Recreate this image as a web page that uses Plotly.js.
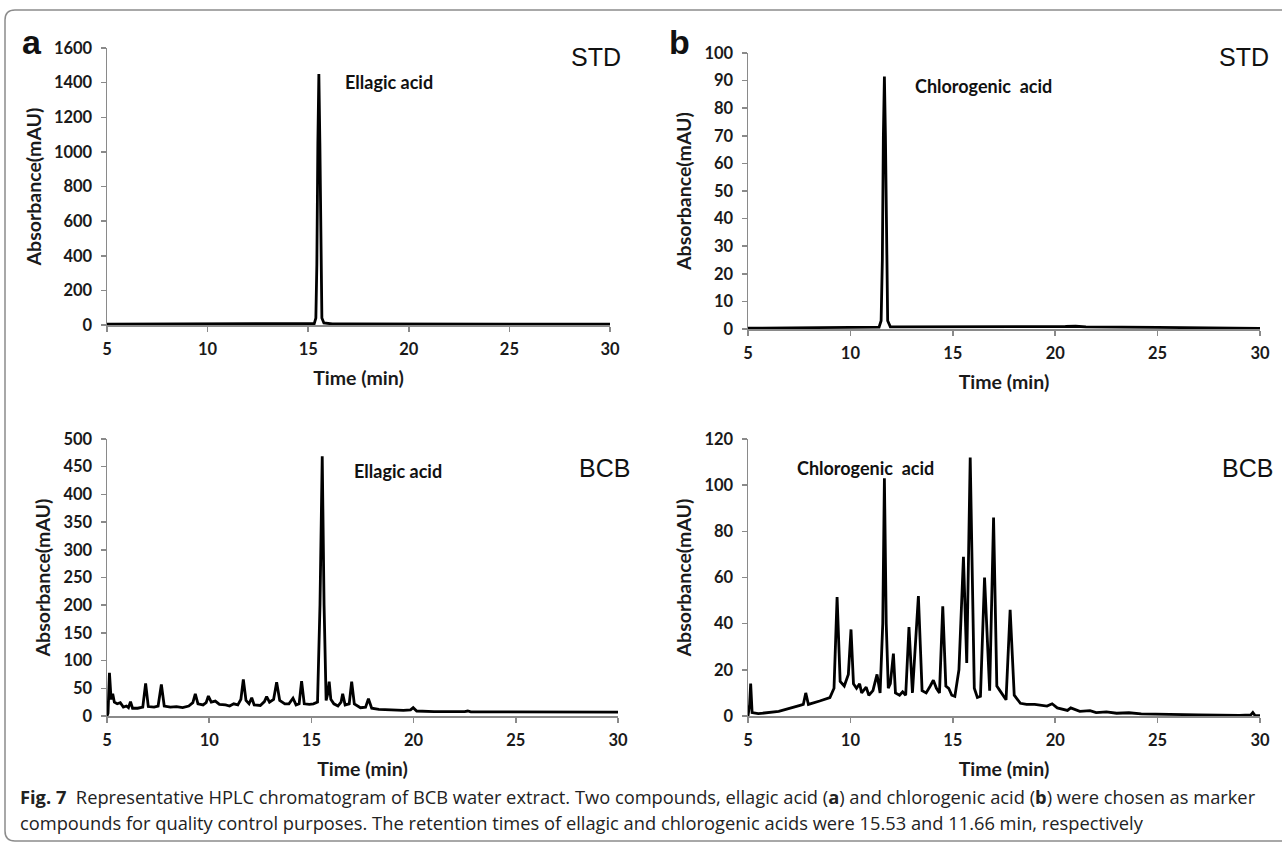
<!DOCTYPE html>
<html>
<head>
<meta charset="utf-8">
<script src="https://cdn.plot.ly/plotly-3.0.1.min.js"></script>
<style>html,body{margin:0;padding:0;background:#fff;}#chart{width:1282px;height:845px;}</style>
</head>
<body>
<div id="chart"></div>
<script>
// ---- Data ----
const stdEllagicTime = [5, 8, 10, 13, 15.0, 15.3, 15.38, 15.43, 15.48, 15.53, 15.58, 15.63, 15.68, 15.78, 16.2, 17, 20, 25, 30];
const stdEllagicAbs  = [5, 5, 6, 5, 5, 8, 40, 350, 1050, 1450, 1050, 350, 40, 12, 6, 6, 5, 5, 5];

const stdChloroTime = [5, 7, 10, 11.4, 11.5, 11.56, 11.61, 11.66, 11.71, 11.76, 11.82, 11.95, 13.5, 16, 20.5, 21, 21.5, 25, 28, 30];
const stdChloroAbs  = [0.3, 0.5, 0.6, 0.7, 3, 25, 70, 91.5, 70, 25, 3, 0.8, 0.8, 0.7, 0.9, 1.0, 0.8, 0.6, 0.5, 0.2];

const bcbEllagicTime = [5.0, 5.05, 5.12, 5.2, 5.28, 5.36, 5.5, 5.65, 5.8, 5.95, 6.05, 6.15, 6.25, 6.5, 6.75, 6.89, 7.02, 7.3, 7.5, 7.66, 7.8, 8.1, 8.4, 8.7, 9.0, 9.2, 9.32, 9.45, 9.7, 9.85, 9.96, 10.1, 10.3, 10.5, 10.8, 11.0, 11.2, 11.4, 11.55, 11.67, 11.8, 11.95, 12.08, 12.2, 12.5, 12.7, 12.81, 12.95, 13.15, 13.3, 13.45, 13.7, 13.9, 14.1, 14.25, 14.4, 14.52, 14.65, 14.9, 15.1, 15.3, 15.42, 15.53, 15.62, 15.72, 15.8, 15.87, 15.95, 16.1, 16.3, 16.45, 16.53, 16.65, 16.85, 16.97, 17.1, 17.4, 17.65, 17.79, 17.95, 18.3, 18.8, 19.5, 19.85, 19.98, 20.15, 21, 22.5, 22.65, 22.8, 25, 28, 30];
const bcbEllagicAbs  = [0, 5, 78, 30, 40, 25, 22, 24, 16, 18, 15, 26, 14, 14, 16, 59, 17, 16, 18, 57, 18, 16, 17, 15, 18, 24, 40, 22, 20, 24, 36, 25, 27, 21, 20, 18, 22, 20, 30, 66, 28, 22, 33, 20, 19, 26, 35, 25, 30, 61, 28, 22, 22, 32, 20, 22, 63, 22, 21, 22, 25, 200, 469, 200, 28, 40, 62, 30, 22, 18, 25, 40, 20, 22, 62, 22, 15, 16, 31, 14, 12, 11, 10, 11, 15, 9, 8, 8, 9, 7.5, 7, 7, 7];

const bcbChloroTime = [5.0, 5.08, 5.13, 5.2, 5.5, 6.5, 7.5, 7.7, 7.82, 7.95, 8.5, 9.0, 9.2, 9.35, 9.5, 9.7, 9.9, 10.03, 10.15, 10.3, 10.45, 10.55, 10.77, 10.9, 11.1, 11.3, 11.45, 11.58, 11.66, 11.75, 11.85, 11.95, 12.1, 12.2, 12.4, 12.55, 12.7, 12.86, 13.03, 13.32, 13.5, 13.7, 13.9, 14.05, 14.2, 14.35, 14.51, 14.66, 14.8, 14.95, 15.1, 15.3, 15.52, 15.68, 15.85, 16.05, 16.2, 16.35, 16.55, 16.8, 16.99, 17.15, 17.3, 17.6, 17.8, 18.0, 18.3, 18.6, 19.0, 19.3, 19.6, 19.85, 20.1, 20.6, 20.76, 21.2, 21.7, 22.0, 22.5, 23.0, 23.6, 24.2, 25, 27, 29, 29.55, 29.65, 29.75, 30];
const bcbChloroAbs  = [0, 5, 14, 1.5, 1, 2, 4.5, 5, 10, 5, 6.5, 8, 12, 51.5, 15, 13, 18, 37.5, 14, 12, 14, 10, 12.5, 9, 11, 18, 10, 40, 103, 40, 12, 14, 27, 10, 9, 10.5, 9, 38.5, 10, 52, 11, 10, 13, 15.5, 12, 10, 47.5, 13, 12, 9, 8.5, 20, 69, 23, 112, 12, 8, 8.5, 60, 11, 86, 13, 11, 7, 46, 9, 5.5, 5, 5, 4.5, 4.3, 5.3, 3.5, 2.4, 3.5, 2, 2.3, 1.5, 1.8, 1.2, 1.4, 0.9, 0.7, 0.5, 0.3, 0.5, 1.5, 0.3, 0.2];

const xTickVals = [5, 10, 15, 20, 25, 30];
const xTitle = 'Time (min)';
const yTitle = 'Absorbance(mAU)';
const panelLetters = ['a', 'b'];
const sampleLabels = ['STD', 'BCB'];
const compoundLabels = ['Ellagic acid', 'Chlorogenic  acid'];
const captionLine1 = '<b>Fig. 7</b>  Representative HPLC chromatogram of BCB water extract. Two compounds, ellagic acid (<b>a</b>) and chlorogenic acid (<b>b</b>) were chosen as marker';
const captionLine2 = 'compounds for quality control purposes. The retention times of ellagic and chlorogenic acids were 15.53 and 11.66 min, respectively';

// ---- Layout helpers (pixel -> paper) ----
const W = 1282, H = 845;
const px = x => x / W;
const py = y => 1 - y / H;

const axisCol = '#8a8a8a';
const tickFont = {family: 'Lato, "Open Sans", sans-serif', size: 16.5, color: '#1a1a1a', weight: 'bold'};
const titleFont = {family: 'Lato, "Open Sans", sans-serif', size: 19.5, color: '#1a1a1a', weight: 'bold'};

function xAxis(x0, x1, anchor) {
  return {domain: [px(x0), px(x1)], anchor: anchor, range: [5, 30], tickvals: xTickVals,
    showline: true, linecolor: axisCol, linewidth: 1.5, ticks: 'outside', ticklen: 5, tickwidth: 1.5, tickcolor: axisCol,
    ticklabelstandoff: 4,
    showgrid: false, zeroline: false, tickfont: tickFont,
    title: {text: xTitle, font: titleFont, standoff: 13}};
}
function yAxis(yTop, yBot, max, dtick, anchor) {
  return {domain: [py(yBot), py(yTop)], anchor: anchor, range: [0, max], dtick: dtick, tick0: 0,
    showline: true, linecolor: axisCol, linewidth: 1.5, ticks: 'outside', ticklen: 5, tickwidth: 1.5, tickcolor: axisCol,
    ticklabelstandoff: 5,
    showgrid: false, zeroline: false, tickfont: tickFont,
    title: {text: yTitle, font: titleFont, standoff: 7}};
}

const lineStyle = {color: '#000', width: 2.8};
const traces = [
  {x: stdEllagicTime, y: stdEllagicAbs, xaxis: 'x', yaxis: 'y', type: 'scatter', mode: 'lines', line: lineStyle, hoverinfo: 'skip'},
  {x: stdChloroTime, y: stdChloroAbs, xaxis: 'x2', yaxis: 'y2', type: 'scatter', mode: 'lines', line: lineStyle, hoverinfo: 'skip'},
  {x: bcbEllagicTime, y: bcbEllagicAbs, xaxis: 'x3', yaxis: 'y3', type: 'scatter', mode: 'lines', line: lineStyle, hoverinfo: 'skip'},
  {x: bcbChloroTime, y: bcbChloroAbs, xaxis: 'x4', yaxis: 'y4', type: 'scatter', mode: 'lines', line: lineStyle, hoverinfo: 'skip'}
];

const ann = (text, x, y, opts) => Object.assign({text: text, xref: 'paper', yref: 'paper', x: px(x), y: py(y),
  showarrow: false, xanchor: 'left', yanchor: 'middle'}, opts || {});

const labelFont = {family: 'Lato, "Open Sans", sans-serif', size: 18, color: '#111'};
const stdFont = {family: '"Liberation Sans", Arial, sans-serif', size: 25, color: '#111'};
const letterFont = {family: '"Liberation Sans", Arial, sans-serif', size: 34, color: '#111'};
const capFont = {family: '"Open Sans", sans-serif', size: 18.3, color: '#222'};

const annotations = [
  ann('<b>' + panelLetters[0] + '</b>', 20, 42, {font: letterFont}),
  ann('<b>' + panelLetters[1] + '</b>', 667, 42, {font: letterFont}),
  ann(sampleLabels[0], 569, 57, {font: stdFont}),
  ann(sampleLabels[0], 1217, 57, {font: stdFont}),
  ann(sampleLabels[1], 577, 468, {font: stdFont}),
  ann(sampleLabels[1], 1220, 468, {font: stdFont}),
  ann('<b>' + compoundLabels[0] + '</b>', 343, 82, {font: labelFont}),
  ann('<b>' + compoundLabels[1] + '</b>', 913, 86, {font: labelFont}),
  ann('<b>' + compoundLabels[0] + '</b>', 352, 471, {font: labelFont}),
  ann('<b>' + compoundLabels[1] + '</b>', 795, 468, {font: labelFont}),
  ann(captionLine1, 18, 796, {font: capFont}),
  ann(captionLine2, 18, 822, {font: capFont})
];

// rounded frame around the figure
const fx0 = 5, fy0 = 10, fx1 = 1295, fy1 = 841, r = 10;
const framePath = 'M ' + px(fx0) + ',' + py(fy0 + r) + ' Q ' + px(fx0) + ',' + py(fy0) + ' ' + px(fx0 + r) + ',' + py(fy0) +
  ' L ' + px(fx1) + ',' + py(fy0) + ' L ' + px(fx1) + ',' + py(fy1) +
  ' L ' + px(fx0 + r) + ',' + py(fy1) + ' Q ' + px(fx0) + ',' + py(fy1) + ' ' + px(fx0) + ',' + py(fy1 - r) + ' Z';

const layout = {
  width: W, height: H, margin: {l: 0, r: 0, t: 0, b: 0},
  paper_bgcolor: '#fff', plot_bgcolor: '#fff', showlegend: false,
  xaxis: xAxis(107, 610, 'y'),
  yaxis: yAxis(48, 325, 1600, 200, 'x'),
  xaxis2: xAxis(748, 1260, 'y2'),
  yaxis2: yAxis(53, 329, 100, 10, 'x2'),
  xaxis3: xAxis(107, 618, 'y3'),
  yaxis3: yAxis(439, 716, 500, 50, 'x3'),
  xaxis4: xAxis(748, 1260, 'y4'),
  yaxis4: yAxis(439, 716, 120, 20, 'x4'),
  annotations: annotations,
  shapes: [{type: 'path', xref: 'paper', yref: 'paper', path: framePath, line: {color: '#8c8c8c', width: 1.5}, layer: 'below'}]
};

Plotly.newPlot('chart', traces, layout, {staticPlot: true, displayModeBar: false});
</script>
</body>
</html>
